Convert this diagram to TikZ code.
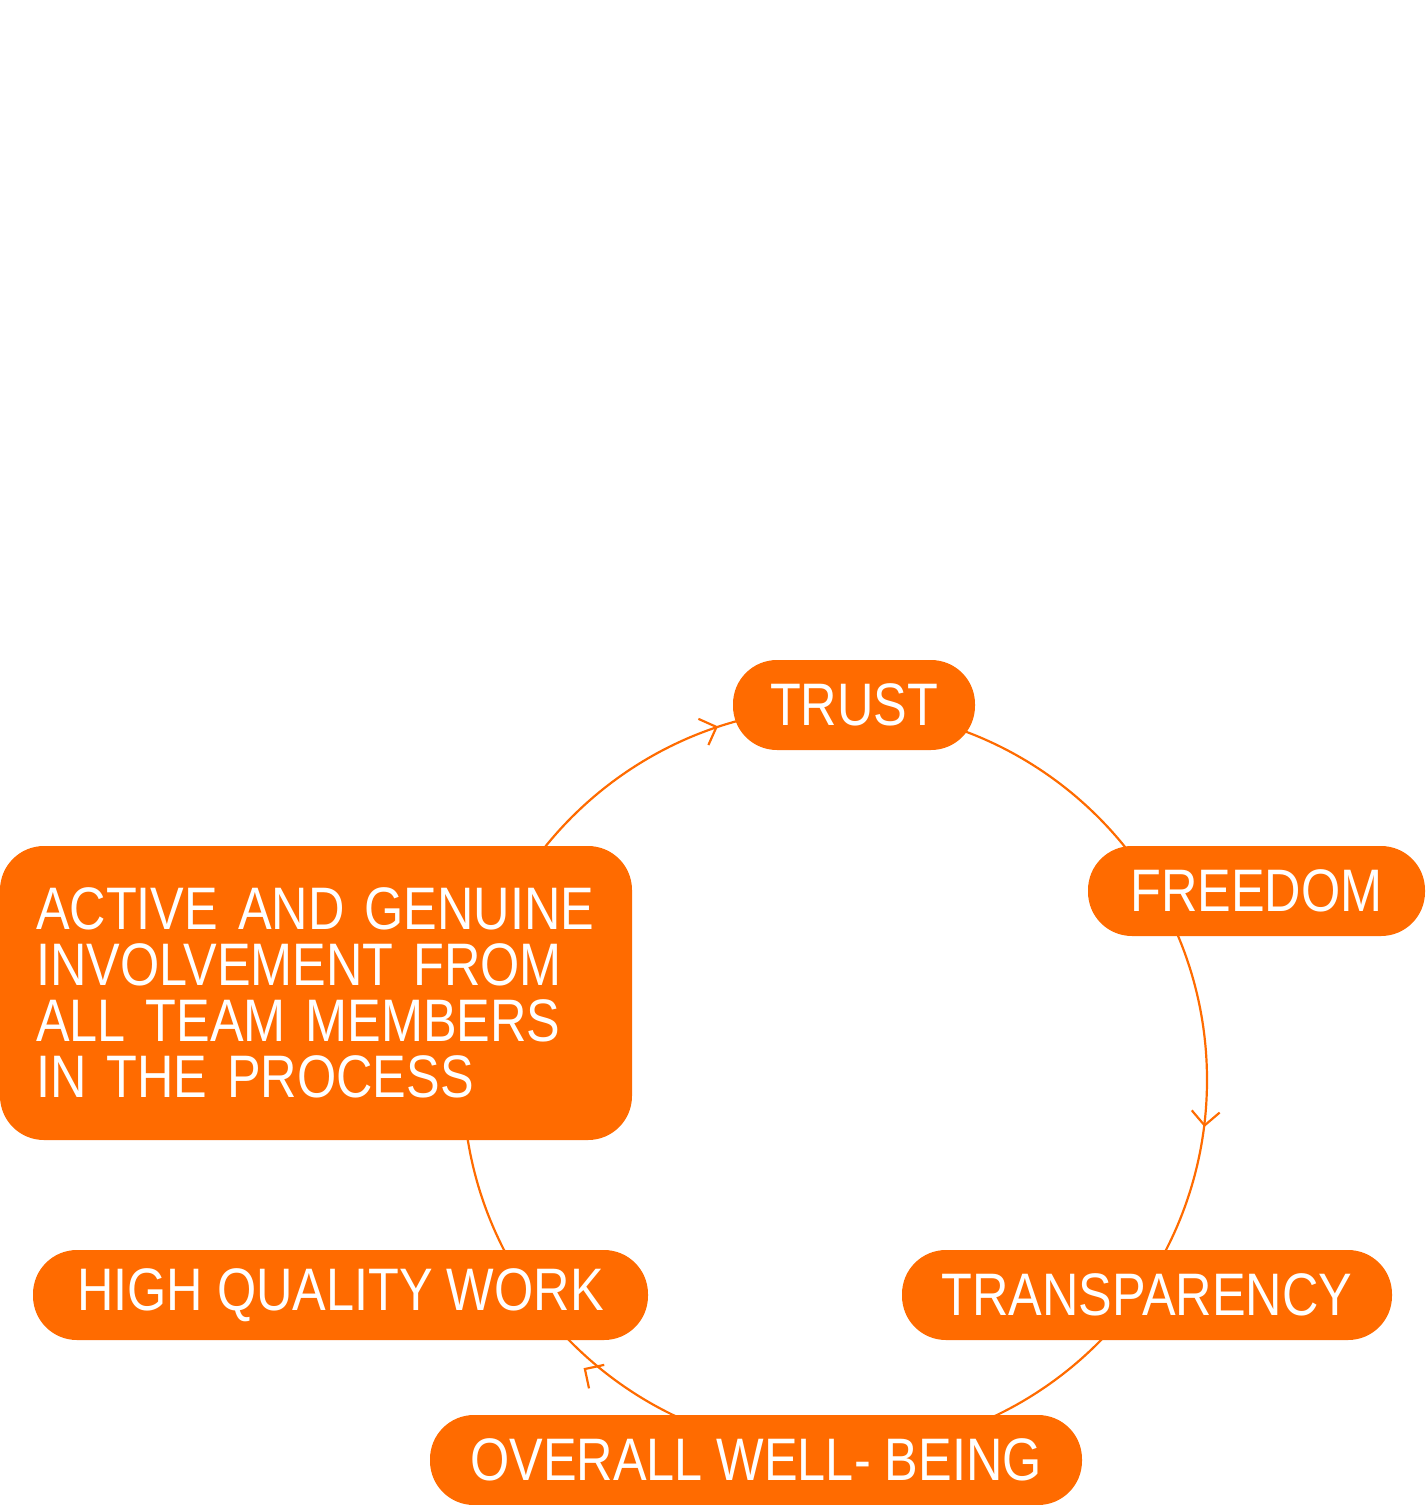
\documentclass[tikz,border=0pt]{standalone}
\usepackage{fontspec}
\newfontfamily\cf[FakeStretch=0.84]{Liberation Sans}
\usetikzlibrary{arrows.meta,decorations.markings}
\definecolor{og}{HTML}{FF6B00}
\tikzset{
 pill/.style={fill=og,rounded corners=22pt,minimum height=45pt,inner sep=0pt,text=white,font=\cf\fontsize{30}{28}\selectfont},
 ring/.style={draw=og,line width=1.1pt,postaction={decorate},decoration={markings,
   mark=at position 0.308 with {\arrow[og,line width=1.1pt]{Straight Barb[reversed,length=7pt,width=14pt]}},
   mark=at position 0.987 with {\arrow[og,line width=1.1pt]{Straight Barb[reversed,length=7pt,width=14pt]}},
   mark=at position 0.642 with {\arrow[og,line width=1.1pt]{Straight Barb[reversed,length=7pt,width=14pt]}}}}
}
\begin{document}
\begin{tikzpicture}[x=0.5pt,y=-0.5pt]
\useasboundingbox (0,0) rectangle (1426,1505);
\coordinate (c) at (835,1080);
\draw[ring] (c) circle[radius=186pt];
\node[pill,minimum width=121pt] (trust) at (854,705) {TRUST};
\node[pill,minimum width=168.5pt] (free) at (1256.5,891) {FREEDOM};
\node[pill,minimum width=245pt] (trans) at (1147,1295) {TRANSPARENCY};
\node[pill,minimum width=326pt] (well) at (756,1460) {OVERALL WELL- BEING};
\node[pill,minimum width=307.5pt] (hq) at (340.5,1295) {HIGH QUALITY WORK};
\node[pill,minimum width=316pt,minimum height=147pt,align=left,text width=280pt] (act) at (316,993) {ACTIVE AND GENUINE\\INVOLVEMENT FROM\\ALL TEAM MEMBERS\\IN THE PROCESS};
\end{tikzpicture}
\end{document}
